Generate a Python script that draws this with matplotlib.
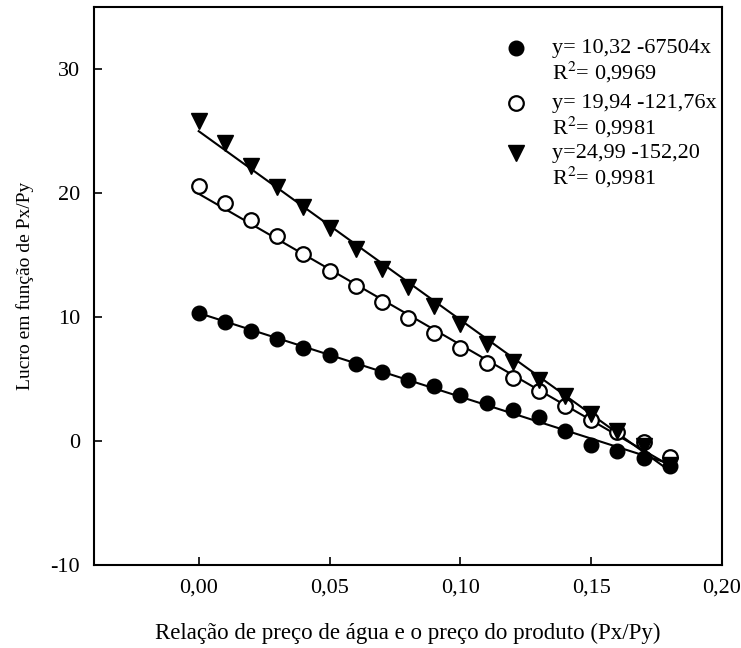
import numpy as np
import matplotlib
matplotlib.use('Agg')
import matplotlib.pyplot as plt

plt.rcParams['font.family'] = ['Liberation Serif', 'DejaVu Serif']
plt.rcParams['axes.unicode_minus'] = False
plt.rcParams['mathtext.fontset'] = 'stix'

# relacao de preco Px/Py
px_py = [0.00, 0.01, 0.02, 0.03, 0.04, 0.05, 0.06, 0.07, 0.08, 0.09,
         0.10, 0.11, 0.12, 0.13, 0.14, 0.15, 0.16, 0.17, 0.18]

# lucro observado, tres tratamentos
lucro_cheio = [10.3, 9.6, 8.9, 8.2, 7.5, 6.9, 6.2, 5.6, 4.9, 4.4,
               3.7, 3.1, 2.5, 1.9, 0.8, -0.3, -0.8, -1.4, -2.0]
lucro_aberto = [20.6, 19.2, 17.8, 16.5, 15.1, 13.7, 12.5, 11.2, 9.9, 8.7,
                7.5, 6.3, 5.1, 4.0, 2.8, 1.7, 0.7, -0.1, -1.3]
lucro_triang = [25.8, 24.0, 22.2, 20.5, 18.9, 17.2, 15.5, 13.9, 12.4, 10.9,
                9.4, 7.8, 6.4, 4.9, 3.6, 2.2, 0.8, -0.4, -1.9]

# coeficientes das retas (intercepto, inclinacao)
reta_cheio = (10.32, -67.504)
reta_aberto = (19.94, -121.76)
reta_triang = (24.99, -152.20)

equacoes = ['y= 10,32 -67504x', 'y= 19,94 -121,76x', 'y=24,99 -152,20']
r2 = ['R$^2$= 0,9969', 'R$^2$= 0,9981', 'R$^2$= 0,9981']

xticks = [0.00, 0.05, 0.10, 0.15, 0.20]
yticks = [-10, 0, 10, 20, 30]

fig = plt.figure(figsize=(7.41, 6.48), dpi=100)
ax = fig.add_axes([0.1269, 0.1281, 0.8475, 0.861])

x = np.array(px_py)
xl = np.array([x[0], x[-1]])

# retas ajustadas
for b0, b1 in [reta_cheio, reta_aberto, reta_triang]:
    ax.plot(xl, b0 + b1 * xl, color='black', lw=1.5, zorder=2)

estilos = [dict(marker='o', ms=10.5, mfc='black', mec='black'),
           dict(marker='o', ms=10.5, mfc='white', mec='black', mew=1.6),
           dict(marker='v', ms=11, mfc='black', mec='black')]

for serie, st in zip([lucro_cheio, lucro_aberto, lucro_triang], estilos):
    ax.plot(x, serie, ls='none', zorder=3, **st)

# legenda manual (marcador alinhado com a primeira linha)
leg_y = [0.9265, 0.828, 0.738]
for yy, st, eq, rr in zip(leg_y, estilos, equacoes, r2):
    ax.plot([0.672], [yy], ls='none', transform=ax.transAxes, clip_on=False, **st)
    ax.text(0.729, yy, eq, transform=ax.transAxes, fontsize=16, va='center', ha='left')
    ax.text(0.729, yy - 0.044, rr, transform=ax.transAxes, fontsize=16, va='center', ha='left')

ax.set_xlim(-0.04, 0.20)
ax.set_ylim(-10, 35)
ax.set_xticks(xticks)
ax.set_xticklabels([f'{t:.2f}'.replace('.', ',') for t in xticks])
ax.set_yticks(yticks)
ax.tick_params(direction='in', length=6, width=1.2, labelsize=16, pad=10)
for s in ax.spines.values():
    s.set_linewidth(1.5)

ax.set_xlabel('Relação de preço de água e o preço do produto (Px/Py)', fontsize=16.5, labelpad=18)
ax.set_ylabel('Lucro em função de Px/Py', fontsize=14, labelpad=12)

fig.savefig('out.png', dpi=100)
